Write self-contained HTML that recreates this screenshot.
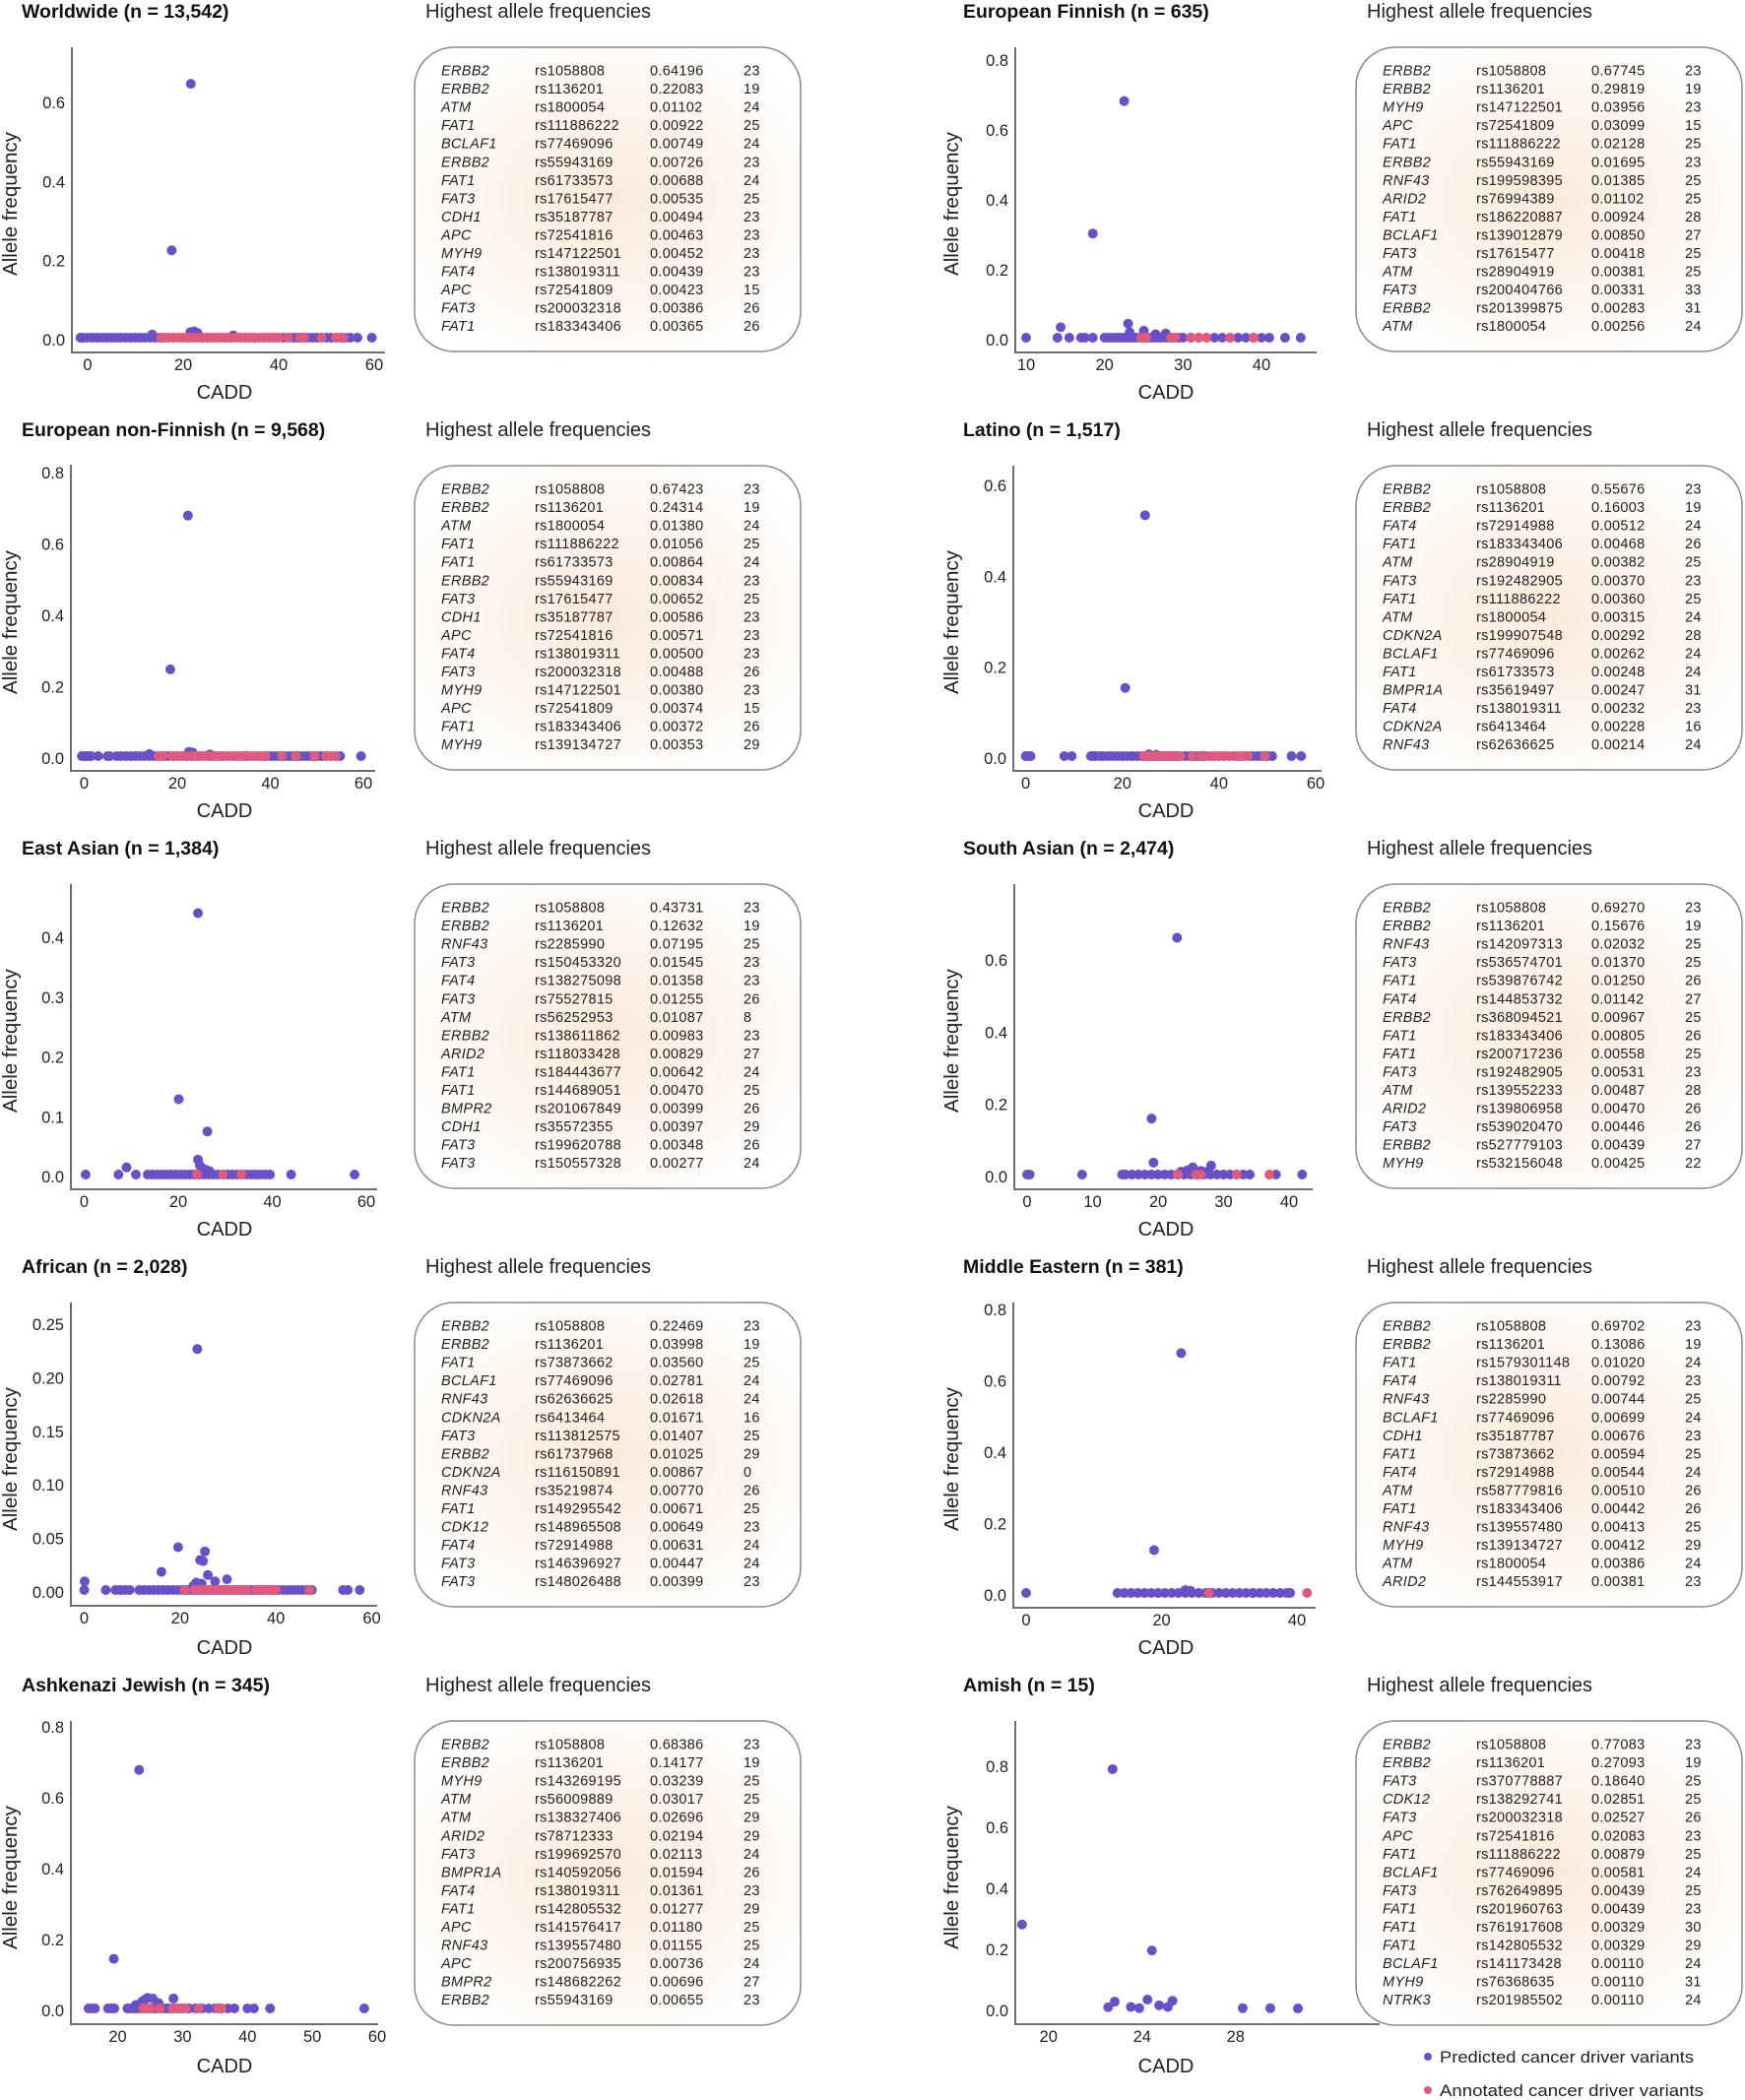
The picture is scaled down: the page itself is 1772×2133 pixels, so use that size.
<!DOCTYPE html>
<html><head><meta charset="utf-8">
<style>
html,body{margin:0;padding:0;background:#fff;}
svg{display:block;}
.title{font-family:"Liberation Sans",sans-serif;font-weight:bold;font-size:19.5px;fill:#111;}
.hdr{font-family:"Liberation Sans",sans-serif;font-size:20px;fill:#222;}
.tick{font-family:"Liberation Sans",sans-serif;font-size:16.5px;fill:#222;}
.ylab{font-family:"Liberation Sans",sans-serif;font-size:20.5px;fill:#222;}
.xlab{font-family:"Liberation Sans",sans-serif;font-size:20px;fill:#222;}
.cell{font-family:"Liberation Sans",sans-serif;font-size:14.5px;letter-spacing:0.3px;fill:#222;}
.gene{font-style:italic;}
.leg{font-family:"Liberation Sans",sans-serif;font-size:17px;fill:#222;}
</style></head>
<body>
<svg id="fig" width="1772" height="2133" viewBox="0 0 1772 2133" xmlns="http://www.w3.org/2000/svg">
<defs>
<radialGradient id="tblbg" cx="0.5" cy="0.5" r="0.6">
<stop offset="0" stop-color="#fbeadb"/>
<stop offset="0.55" stop-color="#fdf5ee"/>
<stop offset="1" stop-color="#ffffff"/>
</radialGradient>
</defs>
</svg>
<script>
// ---------- DATA ----------
// Worldwide
const wwStripX=[-1.5,-1,0,1,2,3,4,5,6,7,8,9,10,11,12,13,14,15,16,17,18,19,20,21,22,23,24,25,26,27,28,29,30,31,32,33,34,35,36,37,38,39,40,41,42,43,44,45,46,47,48,49,50,51,52,53,54,55,56.5,59.5];
const wwOutX=[21.6,17.6,21.5,22.3,23,13.5,30.5];
const wwOutY=[0.642,0.221,0.014,0.016,0.012,0.008,0.006];
const wwAnnX=[15.4,16,17,18,19,20,21,22,23,24,25,26,27,28,29,30,31,32,33,34,35,36,37,38,39,40,42,44.5,45.3,49,52,53,53.5];
const wwYTicks=[0,0.2,0.4,0.6];
const wwXTicks=[0,20,40,60];
const wwTable=["ERBB2|rs1058808|0.64196|23","ERBB2|rs1136201|0.22083|19","ATM|rs1800054|0.01102|24","FAT1|rs111886222|0.00922|25","BCLAF1|rs77469096|0.00749|24","ERBB2|rs55943169|0.00726|23","FAT1|rs61733573|0.00688|24","FAT3|rs17615477|0.00535|25","CDH1|rs35187787|0.00494|23","APC|rs72541816|0.00463|23","MYH9|rs147122501|0.00452|23","FAT4|rs138019311|0.00439|23","APC|rs72541809|0.00423|15","FAT3|rs200032318|0.00386|26","FAT1|rs183343406|0.00365|26"];

// European Finnish
const fiStripX=[10,14,15.5,17,17.5,18.5,20,20.5,21,21.5,22,22.5,23,23.5,24,24.5,25,25.5,26,26.5,27,27.5,28,28.5,29,29.5,30,31,32,33,34,35,36,37,38,39,40,41,43,45];
const fiOutX=[22.5,18.5,23,14.4,25,23.2,26.5,27.8];
const fiOutY=[0.677,0.298,0.04,0.03,0.02,0.015,0.01,0.012];
const fiAnnX=[24.7,25.3,28.5,29,31,32,33,36,39];
const fiYTicks=[0,0.2,0.4,0.6,0.8];
const fiXTicks=[10,20,30,40];
const fiTable=["ERBB2|rs1058808|0.67745|23","ERBB2|rs1136201|0.29819|19","MYH9|rs147122501|0.03956|23","APC|rs72541809|0.03099|15","FAT1|rs111886222|0.02128|25","ERBB2|rs55943169|0.01695|23","RNF43|rs199598395|0.01385|25","ARID2|rs76994389|0.01102|25","FAT1|rs186220887|0.00924|28","BCLAF1|rs139012879|0.00850|27","FAT3|rs17615477|0.00418|25","ATM|rs28904919|0.00381|25","FAT3|rs200404766|0.00331|33","ERBB2|rs201399875|0.00283|31","ATM|rs1800054|0.00256|24"];

// European non-Finnish
const nfStripX=[-0.5,0,0.5,1,1.5,3,5,5.5,7,8,9,10,11,12,13,14,15,16,17,18,19,20,21,22,23,24,25,26,27,28,29,30,31,32,33,34,35,36,37,38,39,40,41,42,43,44,45,46,47,48,49,50,51,52,53,54,55,59.5];
const nfOutX=[22.3,18.5,22.5,23.3,14,27];
const nfOutY=[0.674,0.243,0.012,0.01,0.006,0.005];
const nfAnnX=[16,17,19,20,21,22,23,24,25,26,27,28,29,30,31,32,33,34,35,36,37,38,39,42.5,45.5,49.5,52,53,54];
const nfYTicks=[0,0.2,0.4,0.6,0.8];
const nfXTicks=[0,20,40,60];
const nfTable=["ERBB2|rs1058808|0.67423|23","ERBB2|rs1136201|0.24314|19","ATM|rs1800054|0.01380|24","FAT1|rs111886222|0.01056|25","FAT1|rs61733573|0.00864|24","ERBB2|rs55943169|0.00834|23","FAT3|rs17615477|0.00652|25","CDH1|rs35187787|0.00586|23","APC|rs72541816|0.00571|23","FAT4|rs138019311|0.00500|23","FAT3|rs200032318|0.00488|26","MYH9|rs147122501|0.00380|23","APC|rs72541809|0.00374|15","FAT1|rs183343406|0.00372|26","MYH9|rs139134727|0.00353|29"];

// Latino
const laStripX=[0,0.5,1,8,9.5,13.5,14,14.5,15.5,16,17,18,19,20,21,22,23,24,25,26,27,28,29,30,31,32,33,34,35,36,37,38,39,40,41,42,43,44,45,46,47,48,49,50,51,55,57];
const laOutX=[24.7,20.6,25.5,27];
const laOutY=[0.53,0.15,0.004,0.003];
const laAnnX=[24.5,25.5,26.5,27.5,28.5,29.5,30.5,31.5,32,34.5,36.5,38,39,40,41,42,43,44,45,46,49.5];
const laYTicks=[0,0.2,0.4,0.6];
const laXTicks=[0,20,40,60];
const laTable=["ERBB2|rs1058808|0.55676|23","ERBB2|rs1136201|0.16003|19","FAT4|rs72914988|0.00512|24","FAT1|rs183343406|0.00468|26","ATM|rs28904919|0.00382|25","FAT3|rs192482905|0.00370|23","FAT1|rs111886222|0.00360|25","ATM|rs1800054|0.00315|24","CDKN2A|rs199907548|0.00292|28","BCLAF1|rs77469096|0.00262|24","FAT1|rs61733573|0.00248|24","BMPR1A|rs35619497|0.00247|31","FAT4|rs138019311|0.00232|23","CDKN2A|rs6413464|0.00228|16","RNF43|rs62636625|0.00214|24"];

// East Asian
const eaStripX=[0.3,7.3,11,13.5,14.5,15.5,16.5,17.5,18.5,19.5,20.5,21.5,22.5,23.5,24.5,25.5,26.5,27.5,28.5,29.5,30.5,31.5,32.5,33.5,34.5,35.5,36.5,37.5,38.5,39.5,44,57.5];
const eaOutX=[24.2,20.1,26.2,24.2,9,24.6,25.2,25.8,26.6];
const eaOutY=[0.437,0.126,0.072,0.025,0.012,0.015,0.01,0.008,0.006];
const eaAnnX=[24,29.5,33.5];
const eaYTicks=[0,0.1,0.2,0.3,0.4];
const eaXTicks=[0,20,40,60];
const eaTable=["ERBB2|rs1058808|0.43731|23","ERBB2|rs1136201|0.12632|19","RNF43|rs2285990|0.07195|25","FAT3|rs150453320|0.01545|23","FAT4|rs138275098|0.01358|23","FAT3|rs75527815|0.01255|26","ATM|rs56252953|0.01087|8","ERBB2|rs138611862|0.00983|23","ARID2|rs118033428|0.00829|27","FAT1|rs184443677|0.00642|24","FAT1|rs144689051|0.00470|25","BMPR2|rs201067849|0.00399|26","CDH1|rs35572355|0.00397|29","FAT3|rs199620788|0.00348|26","FAT3|rs150557328|0.00277|24"];

// South Asian
const saStripX=[0,0.4,8.4,14.5,15,16,17,18,19,20,21,22,23,24,25,26,27,28,29,30,31,32,33,34,38,42];
const saOutX=[22.9,19.0,19.3,28.1,25.3,24.5,26.5,23.5,27.2];
const saOutY=[0.656,0.155,0.033,0.025,0.02,0.012,0.01,0.008,0.007];
const saAnnX=[23,25.8,26.5,32,37];
const saYTicks=[0,0.2,0.4,0.6];
const saXTicks=[0,10,20,30,40];
const saTable=["ERBB2|rs1058808|0.69270|23","ERBB2|rs1136201|0.15676|19","RNF43|rs142097313|0.02032|25","FAT3|rs536574701|0.01370|25","FAT1|rs539876742|0.01250|26","FAT4|rs144853732|0.01142|27","ERBB2|rs368094521|0.00967|25","FAT1|rs183343406|0.00805|26","FAT1|rs200717236|0.00558|25","FAT3|rs192482905|0.00531|23","ATM|rs139552233|0.00487|28","ARID2|rs139806958|0.00470|26","FAT3|rs539020470|0.00446|26","ERBB2|rs527779103|0.00439|27","MYH9|rs532156048|0.00425|22"];

// African
const afStripX=[0,4.5,6.5,7.5,8.5,9.5,11.5,12.5,13.5,14.5,15.5,16.5,17.5,18.5,19.5,20.5,21.5,22.5,23.5,24.5,25.5,26.5,27.5,28.5,29.5,30.5,31.5,32.5,33.5,34.5,35.5,36.5,37.5,38.5,39.5,40.5,41.5,42.5,43.5,44.5,45.5,46.5,47.5,54,55,57.5];
const afOutX=[23.6,19.6,25.2,24.2,24.8,16.1,25.8,29.8,27.3,0.1,23.4,24.5,22.8];
const afOutY=[0.225,0.04,0.036,0.028,0.027,0.017,0.014,0.01,0.008,0.008,0.007,0.006,0.004];
const afAnnX=[21,23,24,25,26,27,28,29,30,31,32,33,34,36,37,38,39,40,47];
const afYTicks=[0,0.05,0.1,0.15,0.2,0.25];
const afYLabels=["0.00","0.05","0.10","0.15","0.20","0.25"];
const afXTicks=[0,20,40,60];
const afTable=["ERBB2|rs1058808|0.22469|23","ERBB2|rs1136201|0.03998|19","FAT1|rs73873662|0.03560|25","BCLAF1|rs77469096|0.02781|24","RNF43|rs62636625|0.02618|24","CDKN2A|rs6413464|0.01671|16","FAT3|rs113812575|0.01407|25","ERBB2|rs61737968|0.01025|29","CDKN2A|rs116150891|0.00867|0","RNF43|rs35219874|0.00770|26","FAT1|rs149295542|0.00671|25","CDK12|rs148965508|0.00649|23","FAT4|rs72914988|0.00631|24","FAT3|rs146396927|0.00447|24","FAT3|rs148026488|0.00399|23"];

// Middle Eastern
const meStripX=[0,13.5,14.5,15.5,16.5,17.5,18.5,19.5,20.5,21.5,22.5,23.5,24.5,25.5,26.5,27.5,28.5,29.5,30.5,31.5,32.5,33.5,34.5,35.5,36.5,37.5,38.5,39];
const meOutX=[22.9,18.9,23.5,24.3];
const meOutY=[0.672,0.12,0.008,0.006];
const meAnnX=[27,41.5];
const meYTicks=[0,0.2,0.4,0.6,0.8];
const meXTicks=[0,20,40];
const meTable=["ERBB2|rs1058808|0.69702|23","ERBB2|rs1136201|0.13086|19","FAT1|rs1579301148|0.01020|24","FAT4|rs138019311|0.00792|23","RNF43|rs2285990|0.00744|25","BCLAF1|rs77469096|0.00699|24","CDH1|rs35187787|0.00676|23","FAT1|rs73873662|0.00594|25","FAT4|rs72914988|0.00544|24","ATM|rs587779816|0.00510|26","FAT1|rs183343406|0.00442|26","RNF43|rs139557480|0.00413|25","MYH9|rs139134727|0.00412|29","ATM|rs1800054|0.00386|24","ARID2|rs144553917|0.00381|23"];

// Ashkenazi Jewish
const ajStripX=[15.5,16,16.5,18.5,19,19.5,21.5,22,22.5,23,23.5,24,24.5,25,25.5,26,26.5,27,27.5,28,28.5,29,29.5,30,31,32,33,34,35,36,37,38,40,41,43.5,58];
const ajOutX=[23.3,19.4,24.6,25.4,28.6,23.8,24.2,26.3,22.8];
const ajOutY=[0.673,0.14,0.03,0.028,0.028,0.02,0.025,0.015,0.01];
const ajAnnX=[24,24.5,25,26.5,28.5,29.5,30.5,32.5,35.5,36];
const ajYTicks=[0,0.2,0.4,0.6,0.8];
const ajXTicks=[20,30,40,50,60];
const ajTable=["ERBB2|rs1058808|0.68386|23","ERBB2|rs1136201|0.14177|19","MYH9|rs143269195|0.03239|25","ATM|rs56009889|0.03017|25","ATM|rs138327406|0.02696|29","ARID2|rs78712333|0.02194|29","FAT3|rs199692570|0.02113|24","BMPR1A|rs140592056|0.01594|26","FAT4|rs138019311|0.01361|23","FAT1|rs142805532|0.01277|29","APC|rs141576417|0.01180|25","RNF43|rs139557480|0.01155|25","APC|rs200756935|0.00736|24","BMPR2|rs148682262|0.00696|27","ERBB2|rs55943169|0.00655|23"];

// Amish
const amStripX=[];
const amOutX=[22.74,18.87,24.42,22.55,22.83,23.52,23.88,24.23,24.73,25.1,25.3,28.3,29.48,30.66];
const amOutY=[0.784,0.275,0.19,0.004,0.022,0.005,0.001,0.029,0.01,0.005,0.025,0.001,0.001,0.0];
const amAnnX=[];
const amYTicks=[0,0.2,0.4,0.6,0.8];
const amXTicks=[20,24,28];
const amTable=["ERBB2|rs1058808|0.77083|23","ERBB2|rs1136201|0.27093|19","FAT3|rs370778887|0.18640|25","CDK12|rs138292741|0.02851|25","FAT3|rs200032318|0.02527|26","APC|rs72541816|0.02083|23","FAT1|rs111886222|0.00879|25","BCLAF1|rs77469096|0.00581|24","FAT3|rs762649895|0.00439|25","FAT1|rs201960763|0.00439|23","FAT1|rs761917608|0.00329|30","FAT1|rs142805532|0.00329|29","BCLAF1|rs141173428|0.00110|24","MYH9|rs76368635|0.00110|31","NTRK3|rs201985502|0.00110|24"];

// ---------- LAYOUT (geometry only) ----------
const panels=[
 {key:'worldwide',title:'Worldwide (n = 13,542)',col:0,row:0,ax:73,top:48,bot:358,right:391,xa:[0,89],xb:[60,380],ya:[0,343],yb:[0.6,102],strip:wwStripX,ox:wwOutX,oy:wwOutY,ann:wwAnnX,yt:wwYTicks,xt:wwXTicks,tbl:wwTable,dec:1},
 {key:'european-finnish',title:'European Finnish (n = 635)',col:1,row:0,ax:75,top:48,bot:358,right:381,xa:[10,86],xb:[40,325],ya:[0,343],yb:[0.8,59],strip:fiStripX,ox:fiOutX,oy:fiOutY,ann:fiAnnX,yt:fiYTicks,xt:fiXTicks,tbl:fiTable,dec:1},
 {key:'european-non-finnish',title:'European non-Finnish (n = 9,568)',col:0,row:1,ax:72,top:47,bot:358,right:381,xa:[0,85.5],xb:[60,369],ya:[0,343],yb:[0.8,53],strip:nfStripX,ox:nfOutX,oy:nfOutY,ann:nfAnnX,yt:nfYTicks,xt:nfXTicks,tbl:nfTable,dec:1},
 {key:'latino',title:'Latino (n = 1,517)',col:1,row:1,ax:73,top:48,bot:358,right:386,xa:[0,85.6],xb:[60,380],ya:[0,343],yb:[0.6,66],strip:laStripX,ox:laOutX,oy:laOutY,ann:laAnnX,yt:laYTicks,xt:laXTicks,tbl:laTable,dec:1},
 {key:'east-asian',title:'East Asian (n = 1,384)',col:0,row:2,ax:72,top:48,bot:358,right:383,xa:[0,85.5],xb:[60,372],ya:[0,343],yb:[0.4,100],strip:eaStripX,ox:eaOutX,oy:eaOutY,ann:eaAnnX,yt:eaYTicks,xt:eaXTicks,tbl:eaTable,dec:1},
 {key:'south-asian',title:'South Asian (n = 2,474)',col:1,row:2,ax:74,top:48,bot:358,right:377,xa:[0,87],xb:[40,353],ya:[0,343],yb:[0.6,123],strip:saStripX,ox:saOutX,oy:saOutY,ann:saAnnX,yt:saYTicks,xt:saXTicks,tbl:saTable,dec:1},
 {key:'african',title:'African (n = 2,028)',col:0,row:3,ax:72,top:48,bot:356,right:383,xa:[0,85.5],xb:[60,377.5],ya:[0,340],yb:[0.25,68],strip:afStripX,ox:afOutX,oy:afOutY,ann:afAnnX,yt:afYTicks,ytl:afYLabels,xt:afXTicks,tbl:afTable,dec:2},
 {key:'middle-eastern',title:'Middle Eastern (n = 381)',col:1,row:3,ax:73,top:48,bot:358,right:380,xa:[0,86],xb:[40,361],ya:[0,343],yb:[0.8,53],strip:meStripX,ox:meOutX,oy:meOutY,ann:meAnnX,yt:meYTicks,xt:meXTicks,tbl:meTable,dec:1},
 {key:'ashkenazi-jewish',title:'Ashkenazi Jewish (n = 345)',col:0,row:4,ax:72,top:48,bot:356,right:384,xa:[20,119.5],xb:[60,383],ya:[0,340],yb:[0.8,52],strip:ajStripX,ox:ajOutX,oy:ajOutY,ann:ajAnnX,yt:ajYTicks,xt:ajXTicks,tbl:ajTable,dec:1},
 {key:'amish',title:'Amish (n = 15)',col:1,row:4,ax:75,top:48,bot:356,right:445,xa:[20,108.7],xb:[28,298.8],ya:[0,340],yb:[0.8,92],strip:amStripX,ox:amOutX,oy:amOutY,ann:amAnnX,yt:amYTicks,xt:amXTicks,tbl:amTable,dec:1}
];
const PURPLE='#6a50c6', PINK='#e05a7d';
const NS='http://www.w3.org/2000/svg';
const svg=document.getElementById('fig');
function mk(tag,attrs,parent,text){const e=document.createElementNS(NS,tag);for(const k in attrs)e.setAttribute(k,attrs[k]);if(text!==undefined)e.textContent=text;parent.appendChild(e);return e;}

panels.forEach(p=>{
  const ox=p.col*956, oy=p.row*425;
  const g=mk('g',{transform:`translate(${ox},${oy})`},svg);
  
  
  const sx=v=>p.xa[1]+(v-p.xa[0])*(p.xb[1]-p.xa[1])/(p.xb[0]-p.xa[0]);
  const sy=v=>p.ya[1]+(v-p.ya[0])*(p.yb[1]-p.ya[1])/(p.yb[0]-p.ya[0]);
  const t=mk('text',{x:22,y:18,class:'title'},g,p.title);
  
  
  const h=mk('text',{x:432,y:18,class:'hdr'},g,'Highest allele frequencies');
  
  
  const ya=mk('line',{x1:p.ax,y1:p.top,x2:p.ax,y2:p.bot,stroke:'#6e6e6e','stroke-width':2},g);
  
  
  const xa=mk('line',{x1:p.ax-1,y1:p.bot,x2:p.right,y2:p.bot,stroke:'#6e6e6e','stroke-width':2},g);
  
  
  p.yt.forEach((v,i)=>{
    const lab=p.ytl?p.ytl[i]:v.toFixed(p.dec);
    const e=mk('text',{x:p.ax-7,y:sy(v)+8,class:'tick','text-anchor':'end'},g,lab);
    
    
  });
  p.xt.forEach(v=>{
    const e=mk('text',{x:sx(v),y:p.bot+18,class:'tick','text-anchor':'middle'},g,String(v));
    
    
  });
  const yl=mk('text',{x:0,y:0,class:'ylab','text-anchor':'middle',transform:`translate(17,207) rotate(-90)`},g,'Allele frequency');
  
  
  const xl=mk('text',{x:228,y:405,class:'xlab','text-anchor':'middle'},g,'CADD');
  
  
  const pg=mk('g',{},g);
  
  
  p.strip.forEach(v=>{
    const c=mk('circle',{cx:sx(v),cy:sy(0),r:5,fill:PURPLE},pg);
    
    
  });
  p.ox.forEach((v,i)=>{
    const c=mk('circle',{cx:sx(v),cy:sy(p.oy[i]),r:5,fill:PURPLE},pg);
    
    
  });
  const ag=mk('g',{},g);
  
  
  p.ann.forEach(v=>{
    const c=mk('circle',{cx:sx(v),cy:sy(0),r:5,fill:PINK},ag);
    
    
  });
  const tb=mk('g',{},g);
  
  
  mk('rect',{x:421,y:48,width:392,height:309,rx:40,ry:40,fill:'url(#tblbg)',stroke:'#8a8a8a','stroke-width':1.5},tb);
  p.tbl.forEach((r,i)=>{
    const f=r.split('|'); const y=76.5+i*18.55;
    const row=mk('g',{},tb);
    
    
    mk('text',{x:448,y:y,class:'cell gene'},row,f[0]);
    mk('text',{x:543,y:y,class:'cell'},row,f[1]);
    mk('text',{x:660,y:y,class:'cell'},row,f[2]);
    mk('text',{x:755,y:y,class:'cell'},row,f[3]);
  });
});
const lg=mk('g',{},svg);


const l1=mk('g',{},lg);


mk('circle',{cx:1450,cy:2089,r:4,fill:PURPLE},l1);
mk('text',{x:1462,y:2095,class:'leg',textLength:258,lengthAdjust:'spacingAndGlyphs'},l1,'Predicted cancer driver variants');
const l2=mk('g',{},lg);


mk('circle',{cx:1450,cy:2123,r:4,fill:PINK},l2);
mk('text',{x:1462,y:2129,class:'leg',textLength:268,lengthAdjust:'spacingAndGlyphs'},l2,'Annotated cancer driver variants');
</script>
</body></html>
